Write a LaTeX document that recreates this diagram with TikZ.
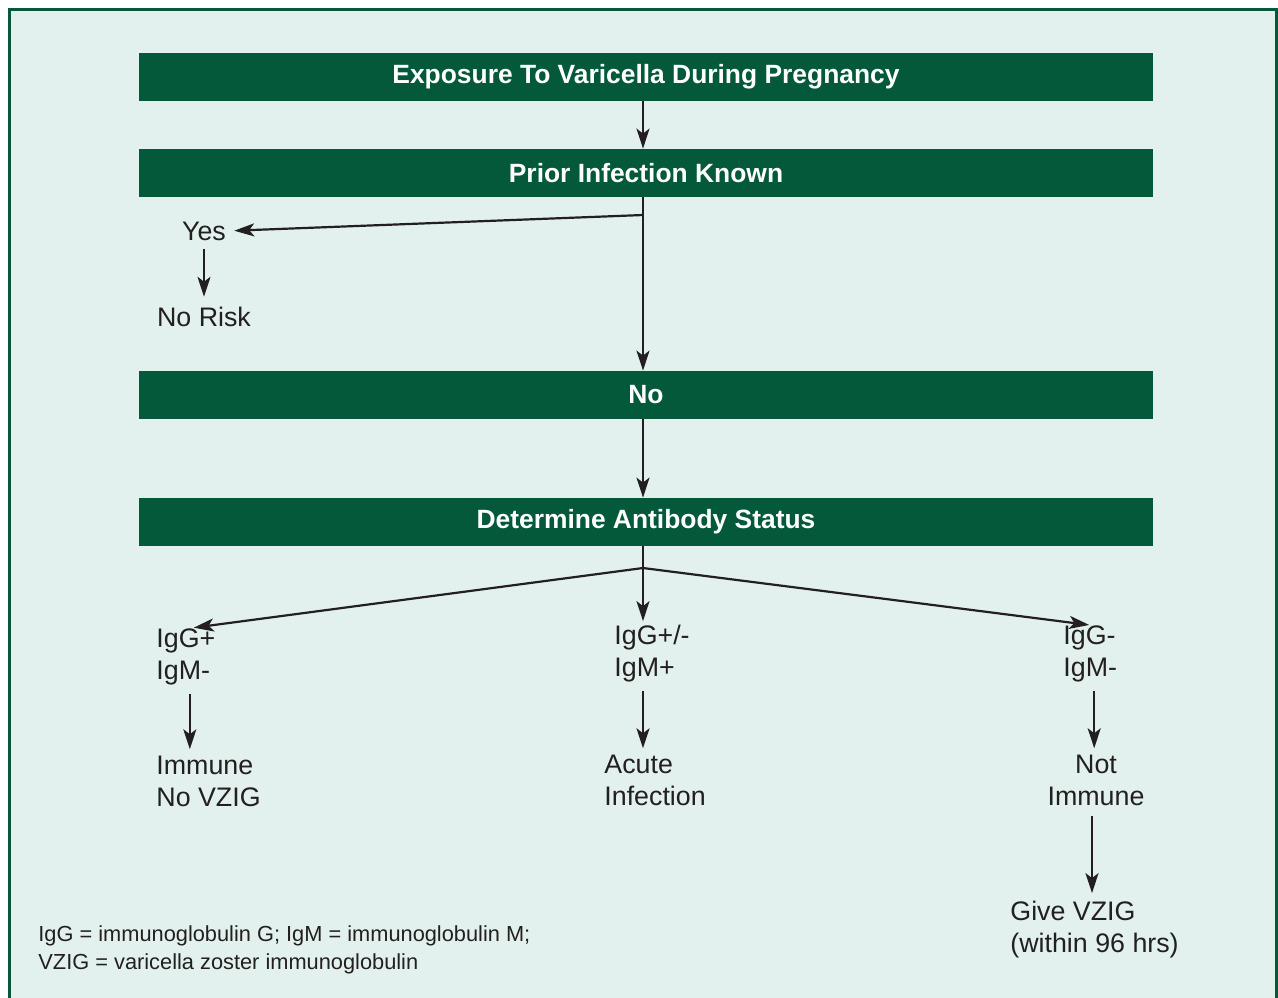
\documentclass[tikz,border=0pt]{standalone}
\usepackage{fontspec}
\setmainfont{Liberation Sans}
\usetikzlibrary{arrows.meta}
\definecolor{dkgreen}{HTML}{03593A}
\definecolor{mint}{HTML}{E2F1ED}
\definecolor{ink}{HTML}{231F20}
\tikzset{
    bar/.style={fill=dkgreen, text=white, minimum width=507pt, minimum height=24pt, inner sep=0pt, font=\fontsize{13.2}{15}\selectfont\bfseries},
    lbl/.style={text=ink, inner sep=0pt, align=left, font=\fontsize{13.4}{16}\selectfont},
    arr/.style={draw=ink, line width=1.1pt, -{Stealth[length=10pt, width=6.5pt, inset=2.5pt]}}
}
\begin{document}
\begin{tikzpicture}[x=0.5pt, y=-0.5pt]
        \useasboundingbox (0, 0) rectangle (1278, 997);
        \fill[white] (0, 0) rectangle (1278, 997);
        \filldraw[draw=dkgreen, fill=mint, line width=1.5pt] (9.5, 9.5) rectangle (1276.5, 1010);
        \node[bar] (expo) at (646, 77) {Exposure To Varicella During Pregnancy};
        \node[bar] (prior) at (646, 173) {Prior Infection Known};
        \node[bar] (no) at (646, 395) {No};
        \node[bar] (det) at (646, 522) {Determine Antibody Status};
        \coordinate (j1) at (643, 215);
        \coordinate (j2) at (643, 568);
        \node[lbl] (yes) at (204, 231) {Yes};
        \node[lbl] (norisk) at (204, 317) {No Risk};
        \node[lbl, anchor=west] (igl) at (156, 657) {IgG+\\IgM-};
        \node[lbl, anchor=west] (igm) at (614, 654) {IgG+/-\\IgM+};
        \node[lbl, anchor=west] (igr) at (1063, 654) {IgG-\\IgM-};
        \node[lbl, anchor=west] (immune) at (156, 781) {Immune\\No VZIG};
        \node[lbl, anchor=west] (acute) at (604, 780) {Acute\\Infection};
        \node[lbl, align=center] (notimm) at (1096, 780) {Not\\Immune};
        \node[lbl, anchor=west] (give) at (1010, 930) {Give VZIG\\(within 96 hrs)};
        \node[lbl, anchor=west, font=\fontsize{10.9}{14}\selectfont] (key) at (38, 950) {IgG = immunoglobulin G; IgM = immunoglobulin M;\\VZIG = varicella zoster immunoglobulin};
        \draw[arr] ([xshift=-1.5pt]expo.south) -- ([xshift=-1.5pt]prior.north);
        \draw[arr] ([xshift=-1.5pt]prior.south) -- ([xshift=-1.5pt]no.north);
        \draw[arr, shorten >=4pt] (j1) -- (yes.east);
        \draw[arr, shorten <=4pt, shorten >=5pt] (yes.south) -- (norisk.north);
        \draw[arr] ([xshift=-1.5pt]no.south) -- ([xshift=-1.5pt]det.north);
        \draw[draw=ink, line width=1.1pt] ([xshift=-1.5pt]det.south) -- (j2);
        \draw[arr, shorten >=3pt] (j2) -- ([xshift=1pt]igl.north);
        \draw[arr, shorten >=2pt] (j2) -- (j2 |- igm.north);
        \draw[arr, shorten >=2pt] (j2) -- ([xshift=1.5pt]igr.north);
        \draw[arr, shorten <=4pt, shorten >=3pt] ([xshift=2pt]igl.south) -- ([xshift=2pt]igl.south |- immune.north);
        \draw[arr, shorten <=4pt, shorten >=3pt] (j2 |- igm.south) -- (j2 |- acute.north);
        \draw[arr, shorten <=4pt, shorten >=3pt] ([xshift=2pt]igr.south) -- ([xshift=2pt]igr.south |- notimm.north);
        \draw[arr, shorten <=5pt, shorten >=4pt] ([xshift=-2pt]notimm.south) -- ([xshift=-2pt]notimm.south |- give.north);
    \end{tikzpicture}
\end{document}
